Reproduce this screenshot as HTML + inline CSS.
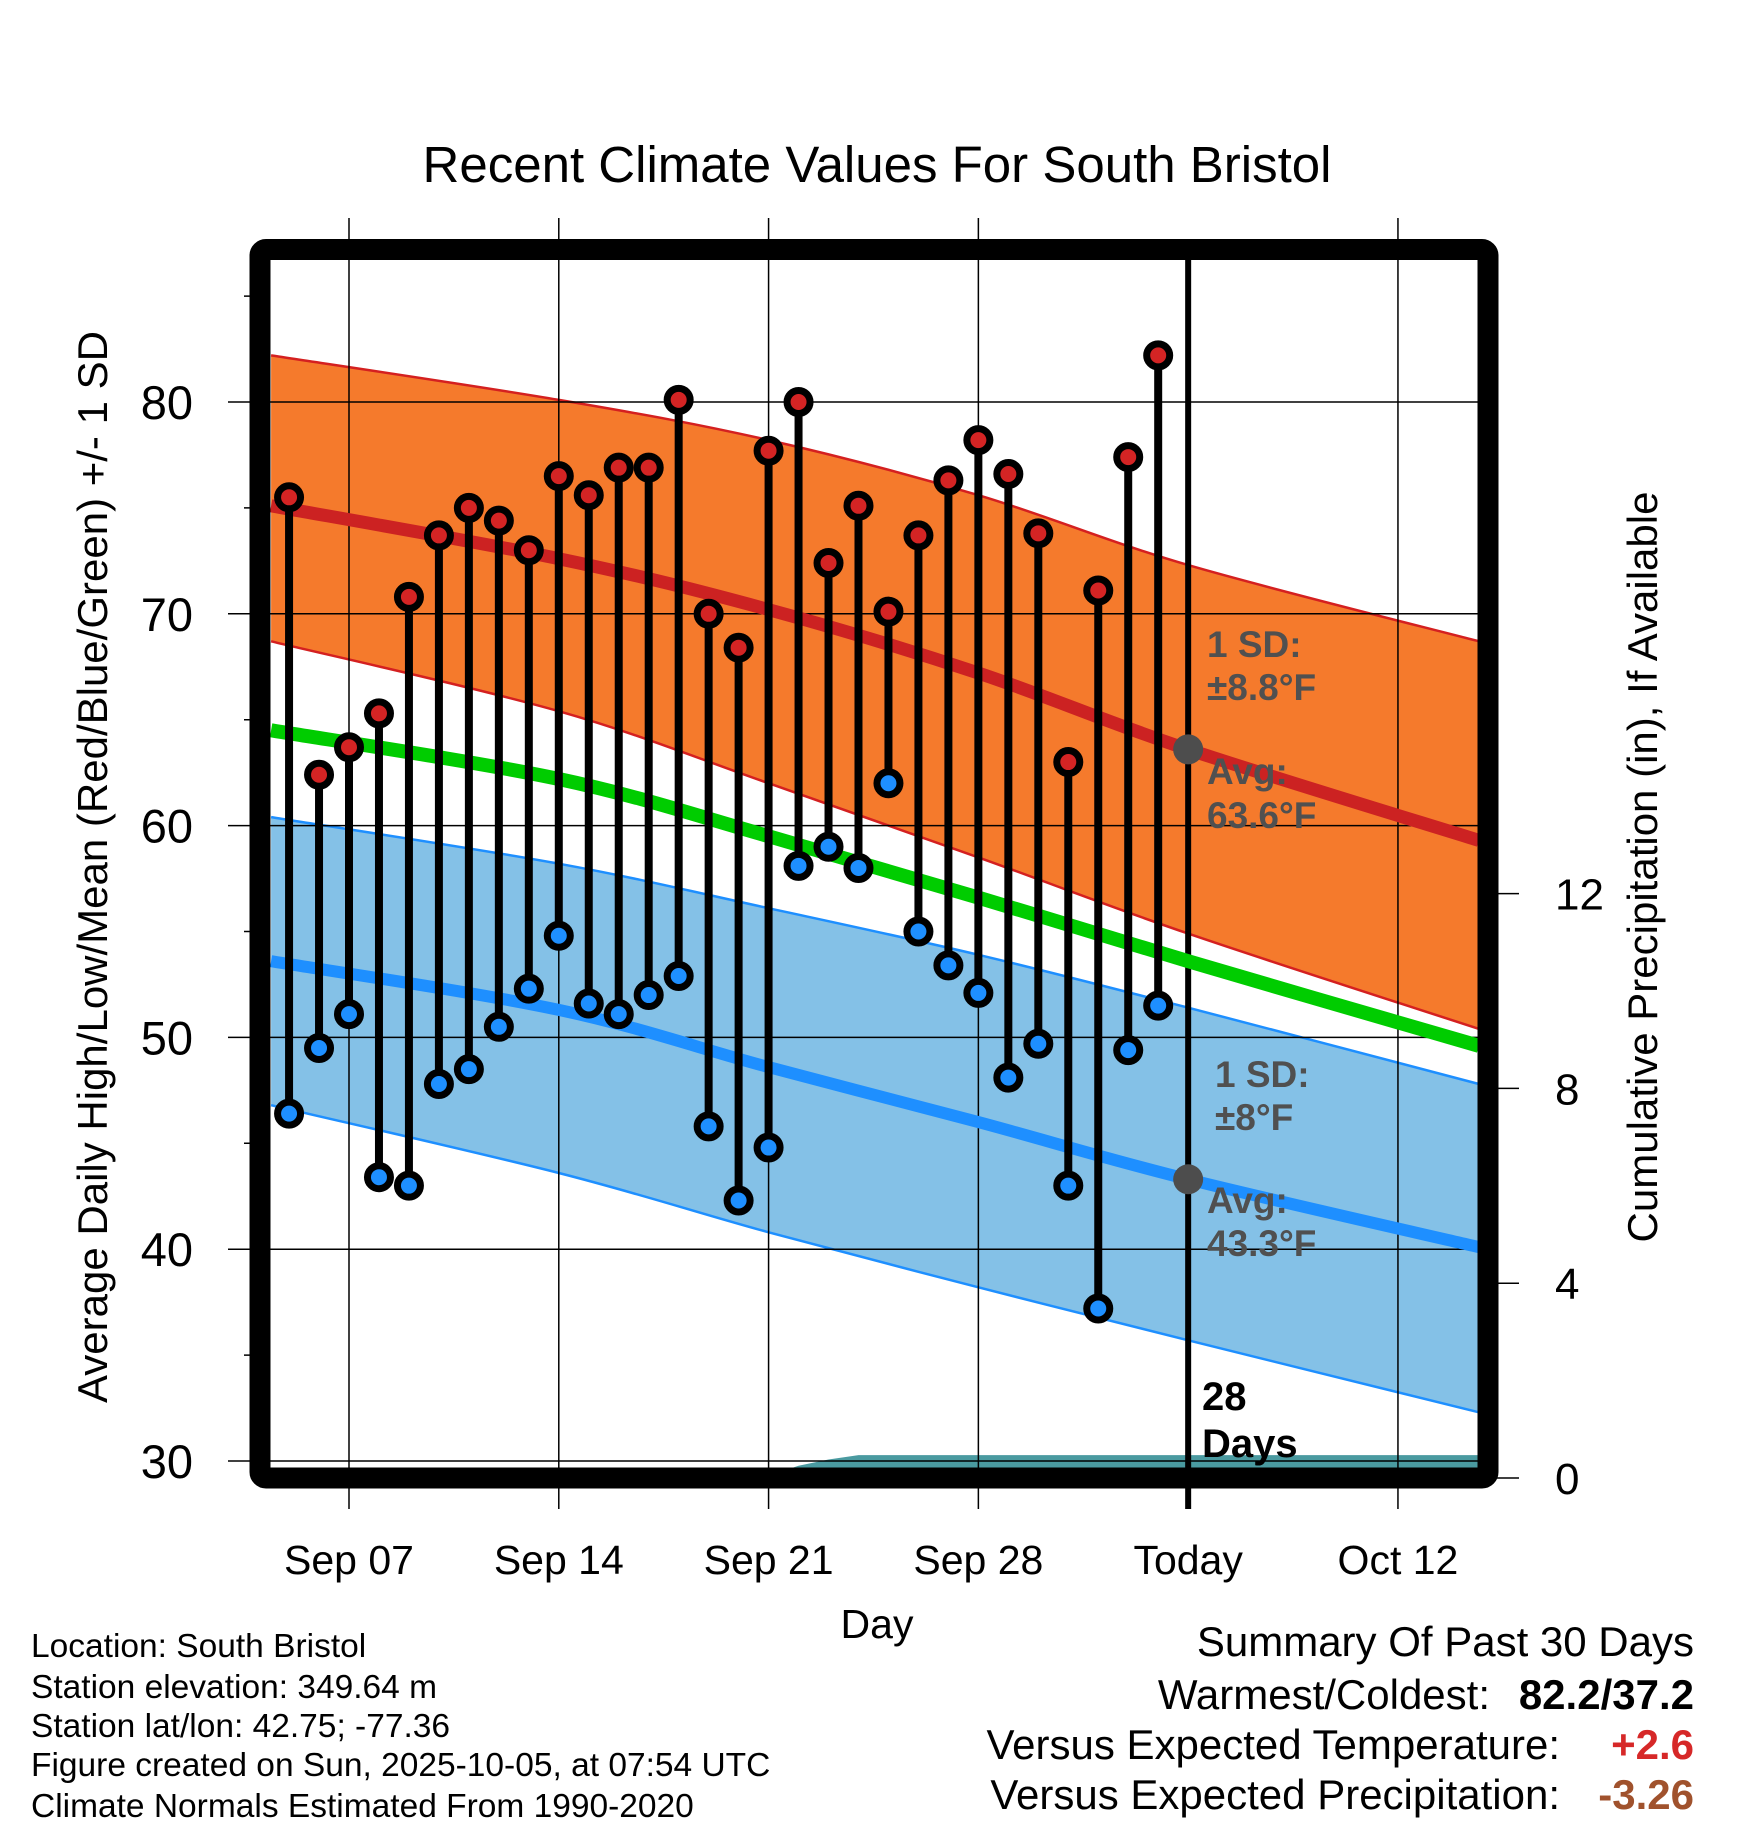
<!DOCTYPE html>
<html><head><meta charset="utf-8"><style>
html,body{margin:0;padding:0;background:#fff;}
svg{display:block;font-family:"Liberation Sans",Arial,sans-serif;}
</style></head><body>
<svg id="chart" width="1748" height="1828" viewBox="0 0 1748 1828" xmlns="http://www.w3.org/2000/svg">
<text x="877" y="182" font-size="51" text-anchor="middle">Recent Climate Values For South Bristol</text>
<g id="plot"></g>
<text x="877" y="1638" font-size="41" text-anchor="middle">Day</text>
<text transform="translate(107,867) rotate(-90)" font-size="42" text-anchor="middle">Average Daily High/Low/Mean (Red/Blue/Green) +/- 1 SD</text>
<text transform="translate(1657,867) rotate(-90)" font-size="42" text-anchor="middle">Cumulative Precipitation (in), If Available</text>
<g font-size="33.5">
<text x="31" y="1657">Location: South Bristol</text>
<text x="31" y="1698">Station elevation: 349.64 m</text>
<text x="31" y="1737">Station lat/lon: 42.75; -77.36</text>
<text x="31" y="1776">Figure created on Sun, 2025-10-05, at 07:54 UTC</text>
<text x="31" y="1817">Climate Normals Estimated From 1990-2020</text>
</g>
<g font-size="42">
<text x="1694" y="1656" text-anchor="end">Summary Of Past 30 Days</text>
<text x="1490" y="1709" text-anchor="end">Warmest/Coldest:</text>
<text x="1694" y="1709" text-anchor="end" font-weight="bold">82.2/37.2</text>
<text x="1560" y="1759" text-anchor="end">Versus Expected Temperature:</text>
<text x="1694" y="1759" text-anchor="end" font-weight="bold" fill="#d62828">+2.6</text>
<text x="1560" y="1809" text-anchor="end">Versus Expected Precipitation:</text>
<text x="1694" y="1809" text-anchor="end" font-weight="bold" fill="#a0522d">-3.26</text>
</g>
</svg>
<script>
// day numbers measured from Sep 0 (Sep 7 = 7, Oct 5 = 35)
const days = [5,6,7,8,9,10,11,12,13,14,15,16,17,18,19,20,21,22,23,24,25,26,27,28,29,30,31,32,33,34];
const highs = [75.5,62.4,63.7,65.3,70.8,73.7,75.0,74.4,73.0,76.5,75.6,76.9,76.9,80.1,70.0,68.4,77.7,80.0,72.4,75.1,70.1,73.7,76.3,78.2,76.6,73.8,63.0,71.1,77.4,82.2];
const lows = [46.4,49.5,51.1,43.4,43.0,47.8,48.5,50.5,52.3,54.8,51.6,51.1,52.0,52.9,45.8,42.3,44.8,58.1,59.0,58.0,62.0,55.0,53.4,52.1,48.1,49.7,43.0,37.2,49.4,51.5];
const normDays = [4.4,14,21,28,35,44.7];
const highAvg = [75.1,72.6,70.2,67.2,63.6,59.3];
const highUp = [82.2,80.1,78.2,75.6,72.3,68.7];
const highLo = [68.7,65.4,62.0,58.5,54.9,50.4];
const meanAvg = [64.5,62.2,59.5,56.6,53.6,49.6];
const lowAvg = [53.6,51.3,48.6,46.0,43.3,40.1];
const lowUp = [60.4,58.2,56.1,53.9,51.4,47.8];
const lowLo = [46.8,43.6,40.8,38.2,35.7,32.3];
const precipDays = [4.4,20.8,22,23,24,44.7];
const precip = [0,0,0.25,0.38,0.47,0.47];
const yTicks = [30,40,50,60,70,80];
const y2Ticks = [0,4,8,12];
const xTickDays = [7,14,21,28,35,42];
const xTickLabels = ["Sep 07","Sep 14","Sep 21","Sep 28","Today","Oct 12"];

const NS="http://www.w3.org/2000/svg";
const L=270,R=1478,T=260,B=1468;
const xs=d=>349+(d-7)*29.97;
const ys=v=>1461-(v-30)*21.18;
const yp=p=>1478-p*48.7;
const g=document.getElementById('plot');
function mk(tag,at,parent){const e=document.createElementNS(NS,tag);for(const k in at)e.setAttribute(k,at[k]);(parent||g).appendChild(e);return e;}
function smooth(vs,rev){
  let P=normDays.map((d,i)=>[xs(d),ys(vs[i])]);
  if(rev)P=P.slice().reverse();
  let s=(rev?'L':'M')+P[0][0].toFixed(1)+','+P[0][1].toFixed(1);
  for(let i=0;i<P.length-1;i++){
    const p0=P[Math.max(i-1,0)],p1=P[i],p2=P[i+1],p3=P[Math.min(i+2,P.length-1)];
    const c1=[p1[0]+(p2[0]-p0[0])/6,p1[1]+(p2[1]-p0[1])/6];
    const c2=[p2[0]-(p3[0]-p1[0])/6,p2[1]-(p3[1]-p1[1])/6];
    s+=' C'+c1.map(v=>v.toFixed(1)).join(',')+' '+c2.map(v=>v.toFixed(1)).join(',')+' '+p2.map(v=>v.toFixed(1)).join(',');
  }
  return s;
}
function band(up,lo,fill,edge,name){
  const p=mk('path',{d:smooth(up,false)+' '+smooth(lo,true)+' Z',fill:fill});
  
  
  [up,lo].forEach(a=>{const l=mk('path',{d:smooth(a,false),fill:'none',stroke:edge,'stroke-width':2.5});
    
    });
}
band(highUp,highLo,'#f57a2c','#d42020','high-sd-band');
band(lowUp,lowLo,'#84c1e7','#1e8fff','low-sd-band');
// precip
const pp=precipDays.map((d,i)=>xs(d).toFixed(1)+','+yp(precip[i]).toFixed(1));
const pa=mk('polygon',{points:pp.join(' ')+' '+xs(44.7)+','+yp(0)+' '+xs(4.4)+','+yp(0),fill:'#4a9aa0'});


// grid
xTickDays.forEach((d,i)=>{const l=mk('line',{x1:xs(d),x2:xs(d),y1:i==4?260:218,y2:1509,stroke:'#000','stroke-width':i==4?6:1.5});
  
  
  const t=mk('text',{x:xs(d),y:1574,'font-size':41,'text-anchor':'middle'});t.textContent=xTickLabels[i];
  
  });
yTicks.forEach(v=>{const l=mk('line',{x1:228,x2:R,y1:ys(v),y2:ys(v),stroke:'#000','stroke-width':1.5});
  
  
  const t=mk('text',{x:193,y:ys(v)+17,'font-size':47,'text-anchor':'end'});t.textContent=v;
  
  });
[35,45,55,65,75,85].forEach(v=>{mk('line',{x1:244,x2:L,y1:ys(v),y2:ys(v),stroke:'#000','stroke-width':1.5});});
y2Ticks.forEach(p=>{mk('line',{x1:1488,x2:1519,y1:yp(p),y2:yp(p),stroke:'#000','stroke-width':1.5});
  const t=mk('text',{x:1555,y:yp(p)+16,'font-size':44});t.textContent=p;
  
  });
// avg lines
[[highAvg,'#cc2222',13,'high-avg-line'],[meanAvg,'#00cc00',14,'mean-avg-line'],[lowAvg,'#1e8fff',12,'low-avg-line']].forEach(a=>{
  const l=mk('path',{d:smooth(a[0],false),fill:'none',stroke:a[1],'stroke-width':a[2]});
  
  });
// annotations
const ann=[[1207,657,'1 SD:'],[1207,700,'±8.8°F'],[1207,784,'Avg:'],[1207,828,'63.6°F'],[1215,1087,'1 SD:'],[1215,1130,'±8°F'],[1207,1213,'Avg:'],[1207,1256,'43.3°F']];
ann.forEach(a=>{const t=mk('text',{x:a[0],y:a[1],'font-size':37,'font-weight':'bold',fill:'#505050'});t.textContent=a[2];
  
  });
[63.6,43.3].forEach(v=>{const c=mk('circle',{cx:xs(35),cy:ys(v),r:15,fill:'#4d4d4d'});
  
  });
// sticks and dots
days.forEach((d,i)=>{
  const s=mk('line',{x1:xs(d),x2:xs(d),y1:ys(highs[i]),y2:ys(lows[i]),stroke:'#000','stroke-width':8});
  
  
});
days.forEach((d,i)=>{
  const h=mk('circle',{cx:xs(d),cy:ys(highs[i]),r:11.5,fill:'#d42424',stroke:'#000','stroke-width':7});
  
  
  const lo=mk('circle',{cx:xs(d),cy:ys(lows[i]),r:11.5,fill:'#1e8fff',stroke:'#000','stroke-width':7});
  
  
});
const t1=mk('text',{x:1202,y:1410,'font-size':40,'font-weight':'bold'});t1.textContent='28';


const t2=mk('text',{x:1202,y:1457,'font-size':40,'font-weight':'bold'});t2.textContent='Days';


const fr=mk('rect',{x:260,y:249.5,width:1228,height:1228.5,fill:'none',stroke:'#000','stroke-width':21,rx:6});


</script>
</body></html>
